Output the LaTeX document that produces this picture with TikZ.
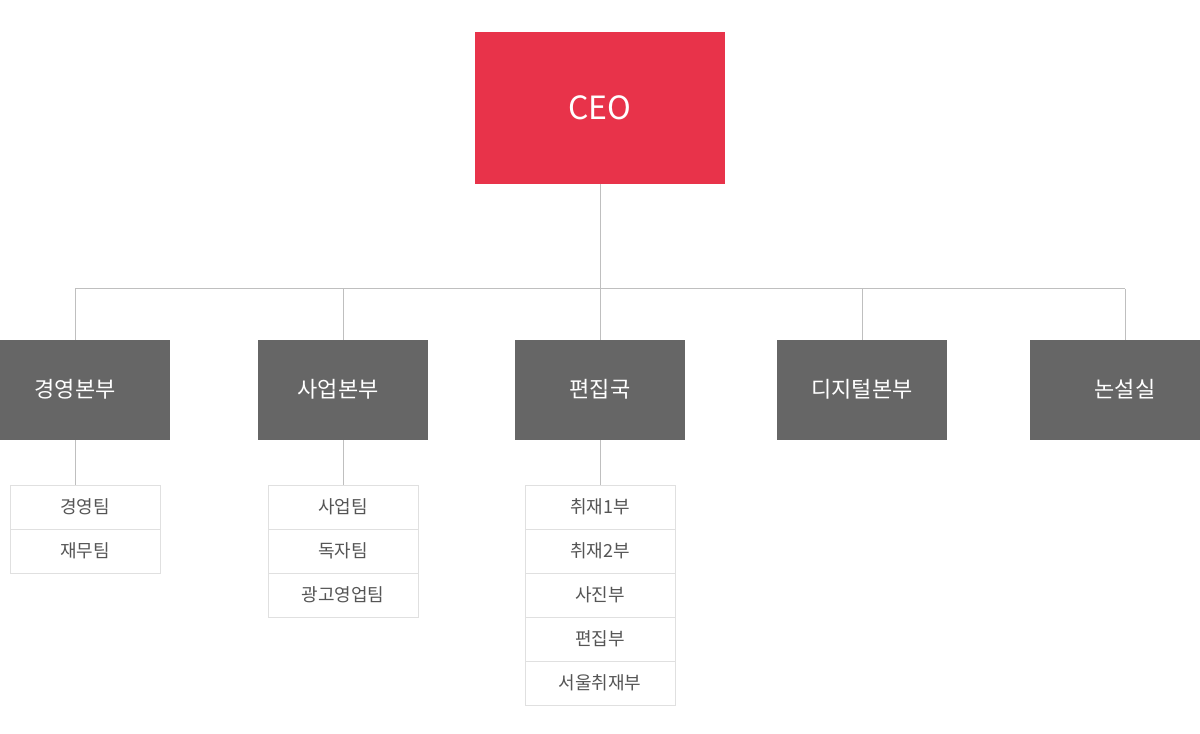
\documentclass[tikz,border=0pt]{standalone}
\usepackage{fontspec}
\setmainfont{Noto Sans CJK KR}
\begin{document}
\begin{tikzpicture}[x=0.75pt,y=-0.75pt,
  ln/.style={draw=black!25,line width=0.75pt},
  head/.style={fill=ceo,text=white,minimum width=187.5pt,minimum height=114pt,inner sep=0},
  dept/.style={fill=deptgray,text=white,minimum width=127.5pt,minimum height=75pt,inner sep=0,font=\fontsize{16.5}{18}\selectfont},
  sub/.style={draw=black!12,line width=0.75pt,fill=white,text=subtext,minimum width=112.5pt,minimum height=33pt,inner sep=0,font=\fontsize{13.5}{15}\selectfont}]
\definecolor{ceo}{HTML}{E8334A}
\definecolor{deptgray}{HTML}{666666}
\definecolor{subtext}{HTML}{555555}
\useasboundingbox (0,0) rectangle (1200,734);
\node[head,font=\fontsize{24}{26}\selectfont] (ceo) at (600,108) {CEO};
\node[dept] (d1) at (85,390) {};
\node[dept] (d2) at (343,390) {};
\node[dept] (d3) at (600,390) {};
\node[dept] (d4) at (862,390) {};
\node[dept] (d5) at (1115,390) {};
\node[text=white,font=\fontsize{16.5}{18}\selectfont] (t1) at (75,389) {경영본부};
\node[text=white,font=\fontsize{16.5}{18}\selectfont] (t2) at (338,389) {사업본부};
\node[text=white,font=\fontsize{16.5}{18}\selectfont] (t3) at (600,389) {편집국};
\node[text=white,font=\fontsize{16.5}{18}\selectfont] (t4) at (862,389) {디지털본부};
\node[text=white,font=\fontsize{16.5}{18}\selectfont] (t5) at (1125,389) {논설실};
\coordinate (h1) at (75,289); \coordinate (h2) at (343,289); \coordinate (h3) at (600,289);
\coordinate (h4) at (862,289); \coordinate (h5) at (1125,289);
\draw[ln] (ceo.south) -- (h3);
\draw[ln] (h1) -- (h5);
\draw[ln] (h1) -- (75,340);
\draw[ln] (h2) -- (d2.north);
\draw[ln] (h3) -- (d3.north);
\draw[ln] (h4) -- (d4.north);
\draw[ln] (h5) -- (1125,340);
% subs
\node[sub] (a1) at (85,507) {경영팀};
\node[sub] (a2) at (85,551) {재무팀};
\node[sub] (b1) at (343,507) {사업팀};
\node[sub] (b2) at (343,551) {독자팀};
\node[sub] (b3) at (343,595) {광고영업팀};
\node[sub] (c1) at (600,507) {취재1부};
\node[sub] (c2) at (600,551) {취재2부};
\node[sub] (c3) at (600,595) {사진부};
\node[sub] (c4) at (600,639) {편집부};
\node[sub] (c5) at (600,683) {서울취재부};
\draw[ln] (75,440) -- (75,485);
\draw[ln] (d2.south) -- (b1.north);
\draw[ln] (d3.south) -- (c1.north);
\end{tikzpicture}
\end{document}
